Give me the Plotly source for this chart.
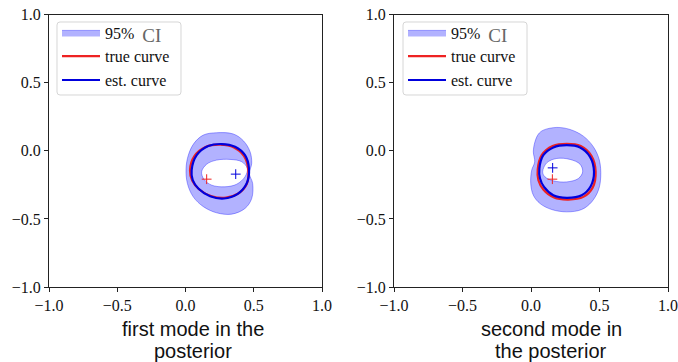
import plotly.graph_objects as go

# ---------------- data ----------------
tick_vals = [-1.0, -0.5, 0.0, 0.5, 1.0]
tick_text = ["\u22121.0", "\u22120.5", "0.0", "0.5", "1.0"]
panel_titles = [["first mode in the", "posterior"], ["second mode in", "the posterior"]]
legend_names = ["95%&nbsp; <span style='font-size:19px;color:#666666;baseline-shift:-3px'>CI</span>",
                "true curve", "est. curve"]

# panel 1 : first mode
p1_ci_outer_x = [0.228, 0.350, 0.424, 0.473, 0.485, 0.468, 0.492, 0.485, 0.436, 0.338, 0.228, 0.131, 0.057, 0.014, 0.004, 0.021, 0.062, 0.131, 0.228]
p1_ci_outer_y = [0.133, 0.124, 0.074, -0.006, -0.092, -0.166, -0.240, -0.350, -0.423, -0.465, -0.455, -0.410, -0.338, -0.240, -0.130, -0.031, 0.055, 0.116, 0.133]
p1_ci_inner_x = [0.118, 0.155, 0.228, 0.326, 0.412, 0.453, 0.436, 0.375, 0.289, 0.192, 0.136, 0.118]
p1_ci_inner_y = [-0.154, -0.098, -0.068, -0.063, -0.080, -0.130, -0.190, -0.245, -0.264, -0.252, -0.210, -0.154]
p1_true_x = [0.033, 0.065, 0.150, 0.253, 0.355, 0.429, 0.460, 0.448, 0.387, 0.297, 0.192, 0.101, 0.050, 0.033]
p1_true_y = [-0.142, -0.039, 0.030, 0.045, 0.025, -0.039, -0.142, -0.245, -0.313, -0.343, -0.333, -0.284, -0.220, -0.142]
p1_est_x = [0.045, 0.082, 0.167, 0.265, 0.363, 0.436, 0.465, 0.448, 0.380, 0.282, 0.180, 0.094, 0.053, 0.045]
p1_est_y = [-0.141, -0.032, 0.035, 0.050, 0.030, -0.032, -0.130, -0.240, -0.318, -0.350, -0.333, -0.276, -0.215, -0.141]
p1_true_center = [0.155, -0.208]
p1_est_center = [0.368, -0.171]

# panel 2 : second mode
p2_ci_outer_x = [0.090, 0.188, 0.285, 0.382, 0.455, 0.499, 0.509, 0.492, 0.443, 0.370, 0.261, 0.151, 0.066, 0.017, -0.002, 0.005, 0.027, 0.017, 0.029, 0.054, 0.090]
p2_ci_outer_y = [0.152, 0.172, 0.157, 0.108, 0.030, -0.068, -0.191, -0.289, -0.375, -0.431, -0.448, -0.431, -0.387, -0.326, -0.240, -0.142, -0.081, -0.007, 0.067, 0.123, 0.152]
p2_ci_inner_x = [0.085, 0.115, 0.188, 0.285, 0.358, 0.377, 0.346, 0.261, 0.163, 0.102, 0.085]
p2_ci_inner_y = [-0.154, -0.088, -0.056, -0.063, -0.098, -0.154, -0.203, -0.228, -0.220, -0.191, -0.154]
p2_true_x = [0.049, 0.078, 0.158, 0.261, 0.363, 0.441, 0.472, 0.450, 0.382, 0.273, 0.168, 0.090, 0.054, 0.049]
p2_true_y = [-0.137, -0.032, 0.035, 0.052, 0.035, -0.037, -0.154, -0.270, -0.338, -0.358, -0.343, -0.284, -0.216, -0.137]
p2_est_x = [0.061, 0.090, 0.163, 0.261, 0.358, 0.431, 0.460, 0.436, 0.370, 0.261, 0.163, 0.095, 0.066, 0.061]
p2_est_y = [-0.130, -0.032, 0.025, 0.042, 0.025, -0.044, -0.154, -0.260, -0.326, -0.345, -0.326, -0.265, -0.203, -0.130]
p2_true_center = [0.156, -0.208]
p2_est_center = [0.158, -0.125]

# ---------------- styles ----------------
RED = "#ee2222"
BLUE = "#0000dd"
CI_FILL = "rgba(0,0,255,0.30)"
CI_EDGE = "rgba(0,0,255,0.35)"
SERIF = "Liberation Serif, Times New Roman, serif"
SANS = "Liberation Sans, Arial, sans-serif"

panels = [
    dict(outer=(p1_ci_outer_x, p1_ci_outer_y), inner=(p1_ci_inner_x, p1_ci_inner_y),
         true=(p1_true_x, p1_true_y), est=(p1_est_x, p1_est_y),
         tc=p1_true_center, ec=p1_est_center),
    dict(outer=(p2_ci_outer_x, p2_ci_outer_y), inner=(p2_ci_inner_x, p2_ci_inner_y),
         true=(p2_true_x, p2_true_y), est=(p2_est_x, p2_est_y),
         tc=p2_true_center, ec=p2_est_center),
]

fig = go.Figure()
W, H = 678, 362


def fx_(px):
    return px / W


def fy_(py):
    return 1 - py / H


x_domains = [[fx_(49), fx_(322)], [fx_(394), fx_(668)]]
y_domain = [fy_(287), fy_(14.7)]

for i, p in enumerate(panels):
    xa = "x" if i == 0 else "x2"
    ya = "y" if i == 0 else "y2"
    lg = "legend" if i == 0 else "legend2"
    ox, oy = p["outer"]
    ix, iy = p["inner"]
    # inner contour reversed to punch a hole
    fx = list(ox) + [None] + list(reversed(ix))
    fy = list(oy) + [None] + list(reversed(iy))
    fig.add_trace(go.Scatter(x=fx, y=fy, mode="lines", fill="toself", fillcolor=CI_FILL,
                             line=dict(color=CI_EDGE, width=1, shape="spline", smoothing=1.0),
                             name=legend_names[0], xaxis=xa, yaxis=ya, legend=lg, hoverinfo="skip"))
    fig.add_trace(go.Scatter(x=p["true"][0], y=p["true"][1], mode="lines",
                             line=dict(color=RED, width=2.2, shape="spline", smoothing=1.0),
                             name=legend_names[1], xaxis=xa, yaxis=ya, legend=lg))
    fig.add_trace(go.Scatter(x=p["est"][0], y=p["est"][1], mode="lines",
                             line=dict(color=BLUE, width=2.2, shape="spline", smoothing=1.0),
                             name=legend_names[2], xaxis=xa, yaxis=ya, legend=lg))
    fig.add_trace(go.Scatter(x=[p["tc"][0]], y=[p["tc"][1]], mode="markers",
                             marker=dict(symbol="cross-thin", size=7, line=dict(color=RED, width=1)),
                             showlegend=False, xaxis=xa, yaxis=ya))
    fig.add_trace(go.Scatter(x=[p["ec"][0]], y=[p["ec"][1]], mode="markers",
                             marker=dict(symbol="cross-thin", size=7, line=dict(color=BLUE, width=1)),
                             showlegend=False, xaxis=xa, yaxis=ya))

axis_common = dict(range=[-1, 1], tickvals=tick_vals, ticktext=tick_text, showgrid=False,
                   zeroline=False, showline=True, linecolor="#222222", linewidth=1, mirror=True,
                   ticks="outside", ticklen=4, tickwidth=1, tickcolor="#222222", automargin=False,
                   tickfont=dict(family=SERIF, size=16, color="#111111"))

legend_common = dict(bgcolor="rgba(0,0,0,0)", borderwidth=0,
                     font=dict(family=SERIF, size=16, color="#111111"),
                     xanchor="left", yanchor="top", tracegroupgap=2, itemwidth=38)


def rounded_box(x0, y0, x1, y1, r=3):
    # pixel box -> paper path with rounded corners
    X = lambda v: f"{fx_(v):.5f}"
    Y = lambda v: f"{fy_(v):.5f}"
    return (f"M {X(x0 + r)},{Y(y0)} L {X(x1 - r)},{Y(y0)} Q {X(x1)},{Y(y0)} {X(x1)},{Y(y0 + r)} "
            f"L {X(x1)},{Y(y1 - r)} Q {X(x1)},{Y(y1)} {X(x1 - r)},{Y(y1)} "
            f"L {X(x0 + r)},{Y(y1)} Q {X(x0)},{Y(y1)} {X(x0)},{Y(y1 - r)} "
            f"L {X(x0)},{Y(y0 + r)} Q {X(x0)},{Y(y0)} {X(x0 + r)},{Y(y0)} Z")


shapes = [
    dict(type="path", xref="paper", yref="paper", path=rounded_box(57, 22, 181, 95), layer="above",
         fillcolor="rgba(255,255,255,0.85)", line=dict(color="#d6d6d6", width=1)),
    dict(type="path", xref="paper", yref="paper", path=rounded_box(403, 22, 527, 95), layer="above",
         fillcolor="rgba(255,255,255,0.85)", line=dict(color="#d6d6d6", width=1)),
]

annotations = []
title_cx = [193, 551]
for i, lines in enumerate(panel_titles):
    for j, t in enumerate(lines):
        annotations.append(dict(text=t, x=fx_(title_cx[i]), y=fy_(329 + 22 * j), xref="paper", yref="paper",
                                xanchor="center", yanchor="middle", showarrow=False,
                                font=dict(family=SANS, size=20, color="#111111")))

fig.update_layout(
    width=W, height=H, margin=dict(l=0, r=0, t=0, b=0, autoexpand=False),
    paper_bgcolor="white", plot_bgcolor="white",
    xaxis=dict(domain=x_domains[0], anchor="y", **axis_common),
    yaxis=dict(domain=y_domain, anchor="x", **axis_common),
    xaxis2=dict(domain=x_domains[1], anchor="y2", **axis_common),
    yaxis2=dict(domain=y_domain, anchor="x2", **axis_common),
    legend=dict(x=fx_(57), y=fy_(15.5), **legend_common),
    legend2=dict(x=fx_(403), y=fy_(15.5), **legend_common),
    shapes=shapes,
    annotations=annotations,
    showlegend=True,
)

fig.write_html(
    "out.html",
    config={"displayModeBar": False},
    post_script="document.body.style.margin='0';document.body.style.padding='0';"
                "document.body.style.overflow='hidden';",
)
